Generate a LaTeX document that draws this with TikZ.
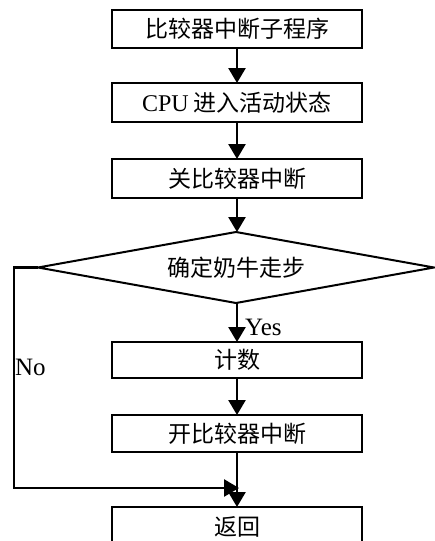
\documentclass[tikz,border=0pt]{standalone}
\usepackage{fontspec}
\setmainfont{Liberation Serif}
\newfontfamily\cjk{Noto Sans CJK SC}
\usetikzlibrary{arrows.meta,shapes.geometric}
\begin{document}
\begin{tikzpicture}[x=1pt,y=-1pt,
  box/.style={draw,line width=2pt,rectangle,minimum width=250pt,inner sep=0pt,outer sep=0pt,font=\cjk\fontsize{23}{25}\selectfont},
  dia/.style={draw,line width=2pt,diamond,aspect=5.58,minimum width=396pt,minimum height=71pt,inner sep=0pt,outer sep=0pt,font=\cjk\fontsize{23}{25}\selectfont},
  arr/.style={line width=2.6pt,-{Triangle[width=17pt,length=15pt]}},
  lbl/.style={font=\fontsize{25}{27}\selectfont,inner sep=0pt,anchor=west}]
\clip (0,0) rectangle (435,541);
\fill[white] (0,0) rectangle (435,541);
\node[box,minimum height=38pt] (b1) at (237,29) {比较器中断子程序};
\node[box,minimum height=39pt] (b2) at (237,102.5) {{\fontsize{24}{26}\selectfont\rmfamily CPU} 进入活动状态};
\node[box,minimum height=39pt] (b3) at (237,178.5) {关比较器中断};
\node[dia] (d) at (236,267.5) {确定奶牛走步};
\node[box,minimum height=36pt] (b4) at (237,360) {计数};
\node[box,minimum height=37pt] (b5) at (237,433.5) {开比较器中断};
\node[box,minimum height=70pt] (b6) at (237,542) {};
\node[font=\cjk\fontsize{23}{25}\selectfont] (t6) at (237,527) {返回};
\coordinate (m) at (239,488);
\draw[arr] (b1.south) -- (b2.north);
\draw[arr] (b2.south) -- (b3.north);
\draw[arr] (b3.south) -- (d.north -| b3.south);
\draw[arr] (d.south -| b4.north) -- (b4.north);
\draw[arr] (b4.south) -- (b5.north);
\draw[arr] (b5.south) -- (b6.north);
\draw[arr] (d.west) -- ++(-24,0) |- (m);
\node[lbl] (yes) at (245,327) {Yes};
\node[lbl] (no) at (15,367) {No};
\end{tikzpicture}
\end{document}
